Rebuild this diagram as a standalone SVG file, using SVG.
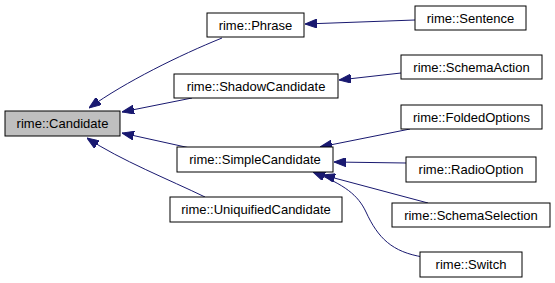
<svg xmlns="http://www.w3.org/2000/svg" width="555" height="283" viewBox="0 0 555 283">
  <style>
    .node rect { fill: #ffffff; stroke: #000000; stroke-width: 1; }
    .node.current rect { fill: #bfbfbf; }
    .node text { font-family: "Liberation Sans", Arial, sans-serif; font-size: 13px; fill: #000000; text-anchor: middle; }
    .edge { fill: none; stroke: #191970; stroke-width: 1; marker-end: url(#inherit); }
  </style>
  <defs>
    <marker id="inherit" viewBox="0 0 12 9" refX="12" refY="4.5" markerWidth="12" markerHeight="9" markerUnits="userSpaceOnUse" orient="auto">
      <path d="M0,0 L12,4.5 L0,9 Z" fill="#191970" stroke="#191970" stroke-width="1"/>
    </marker>
  </defs>
  <rect width="555" height="283" fill="#ffffff"/>

  <g id="edges">
    <path class="edge" d="M222,38 C180,55 125,82 89,108"/>
    <path class="edge" d="M192,98 L122,112"/>
    <path class="edge" d="M190,148 L122,133"/>
    <path class="edge" d="M205,197 C170,180 120,160 87,138"/>
    <path class="edge" d="M415,20 L305,24"/>
    <path class="edge" d="M401,73 L339,80"/>
    <path class="edge" d="M410,129 L320,147"/>
    <path class="edge" d="M406,163 L334,162"/>
    <path class="edge" d="M428,203 L323,175"/>
    <path class="edge" d="M423,257 C392,252 378,238 366,212 C358,195 345,185 313,172"/>
  </g>

  <g id="node-candidate" class="node current">
    <rect x="5" y="111" width="115" height="25"/>
    <text x="62.5" y="128">rime::Candidate</text>
  </g>
  <g id="node-phrase" class="node">
    <rect x="207" y="13" width="97" height="24"/>
    <text x="255.5" y="29.5">rime::Phrase</text>
  </g>
  <g id="node-shadowcandidate" class="node">
    <rect x="174" y="74" width="164" height="24"/>
    <text x="256" y="90.5">rime::ShadowCandidate</text>
  </g>
  <g id="node-simplecandidate" class="node">
    <rect x="177" y="147" width="156" height="25"/>
    <text x="255" y="164">rime::SimpleCandidate</text>
  </g>
  <g id="node-uniquifiedcandidate" class="node">
    <rect x="170" y="197" width="172" height="25"/>
    <text x="256" y="214">rime::UniquifiedCandidate</text>
  </g>
  <g id="node-sentence" class="node">
    <rect x="415" y="6" width="111" height="24"/>
    <text x="470.5" y="22.5">rime::Sentence</text>
  </g>
  <g id="node-schemaaction" class="node">
    <rect x="401" y="55" width="141" height="24"/>
    <text x="471.5" y="71.5">rime::SchemaAction</text>
  </g>
  <g id="node-foldedoptions" class="node">
    <rect x="401" y="105" width="141" height="24"/>
    <text x="471.5" y="121.5">rime::FoldedOptions</text>
  </g>
  <g id="node-radiooption" class="node">
    <rect x="406" y="157" width="130" height="25"/>
    <text x="471" y="174">rime::RadioOption</text>
  </g>
  <g id="node-schemaselection" class="node">
    <rect x="392" y="203" width="158" height="24"/>
    <text x="471" y="219.5">rime::SchemaSelection</text>
  </g>
  <g id="node-switch" class="node">
    <rect x="420" y="252" width="102" height="25"/>
    <text x="471" y="269">rime::Switch</text>
  </g>
</svg>
